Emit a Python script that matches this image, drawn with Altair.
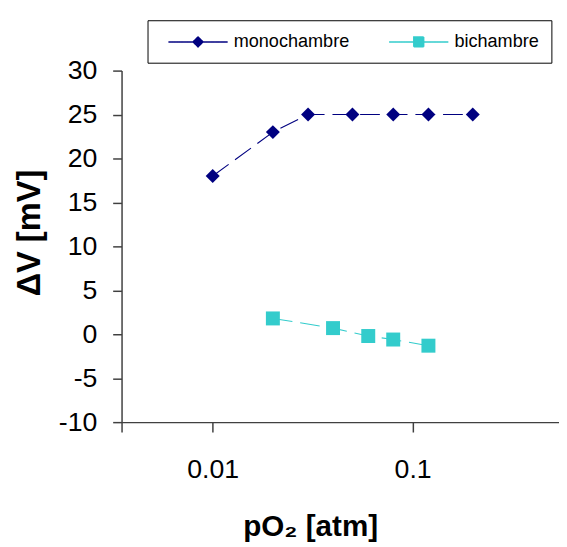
import altair as alt
import pandas as pd

# ---- data ----
mono_x = [0.01, 0.02, 0.03, 0.05, 0.08, 0.12, 0.2]
mono_y = [18, 23, 25, 25, 25, 25, 25]
bi_x = [0.02, 0.04, 0.06, 0.08, 0.12]
bi_y = [1.8, 0.7, -0.2, -0.6, -1.3]
series = ["monochambre", "bichambre"]
colors = ["#000080", "#33CCCC"]
shapes = ["diamond", "square"]
y_ticks = [-10, -5, 0, 5, 10, 15, 20, 25, 30]
x_ticks = [0.0035, 0.01, 0.1]
x_domain = [0.0035, 0.54]
y_domain = [-10, 30]

df = pd.DataFrame({
    "p": mono_x + bi_x,
    "v": mono_y + bi_y,
    "s": [series[0]] * len(mono_x) + [series[1]] * len(bi_x),
})

FONT = "Liberation Sans"

# legend symbols: line with marker in the middle (custom paths)
diamond_path = "M-0.1,0H11.9M5.9,-1L6.9,0L5.9,1L4.9,0Z"
square_path = "M-0.1,0H11.9M4.9,-1H6.9V1H4.9Z"
shape_expr = f"datum.value == '{series[0]}' ? '{diamond_path}' : '{square_path}'"
fill_expr = f"datum.value == '{series[0]}' ? '{colors[0]}' : '{colors[1]}'"

x_enc = alt.X(
    "p:Q",
    scale=alt.Scale(type="log", domain=x_domain, nice=False),
    axis=alt.Axis(
        values=x_ticks,
        labelExpr="datum.value < 0.005 ? '' : toString(datum.value)",
        title="pO₂ [atm]",
        titleX=191,
        titleY=106,
        titleAlign="center",
        titleBaseline="middle",
        tickSize=10,
        labelPadding=25,
    ),
)
y_enc = alt.Y(
    "v:Q",
    scale=alt.Scale(domain=y_domain, nice=False, zero=False),
    axis=alt.Axis(
        values=y_ticks,
        labelExpr="toString(datum.value)",
        title="ΔV [mV]",
        titleX=-93,
        titleY=164,
        titleAlign="center",
        titleBaseline="middle",
        titleFontSize=33,
        tickSize=9,
        labelPadding=16,
    ),
)
color_enc = alt.Color(
    "s:N",
    scale=alt.Scale(domain=series, range=colors),
    legend=alt.Legend(
        orient="none",
        legendX=26.3,
        legendY=-51,
        direction="horizontal",
        columns=2,
        title=None,
        strokeColor="black",
        fillColor="white",
        padding=12.5,
        labelFont=FONT,
        labelFontSize=18.3,
        labelColor="black",
        labelOffset=56.5,
        columnPadding=31.5,
        symbolSize=100,
        symbolStrokeWidth=1.5,
        symbolOpacity=1,
        symbolDash=[1, 0],
        symbolType={"expr": shape_expr},
        symbolFillColor={"expr": fill_expr},
        symbolStrokeColor={"expr": fill_expr},
    ),
)

base = alt.Chart(df)
lines = base.mark_line(strokeWidth=1.1, strokeDash=[20, 8]).encode(
    x=x_enc, y=y_enc, color=color_enc, detail="s:N"
)
point_layers = [
    base.transform_filter(alt.datum.s == name)
    .mark_point(filled=True, opacity=1, size=200, strokeWidth=0, shape=shp, color=col)
    .encode(x=x_enc, y=y_enc)
    for name, col, shp in zip(series, colors, shapes)
]

chart = (
    alt.layer(lines, *point_layers)
    .properties(
        width=443,
        height=356,
        autosize="none",
        padding={"left": 115, "top": 60, "right": 0, "bottom": 119},
    )
    .configure_view(stroke=None)
    .configure_axis(
        grid=False,
        domainColor="#404040",
        domainWidth=1.5,
        tickColor="#404040",
        tickWidth=1.5,
        labelFont=FONT,
        labelFontSize=27,
        labelColor="black",
        titleFont=FONT,
        titleFontSize=30,
        titleFontWeight="bold",
        titleColor="black",
    )
)

chart.save("out.html", embed_options={"renderer": "svg", "actions": False})
